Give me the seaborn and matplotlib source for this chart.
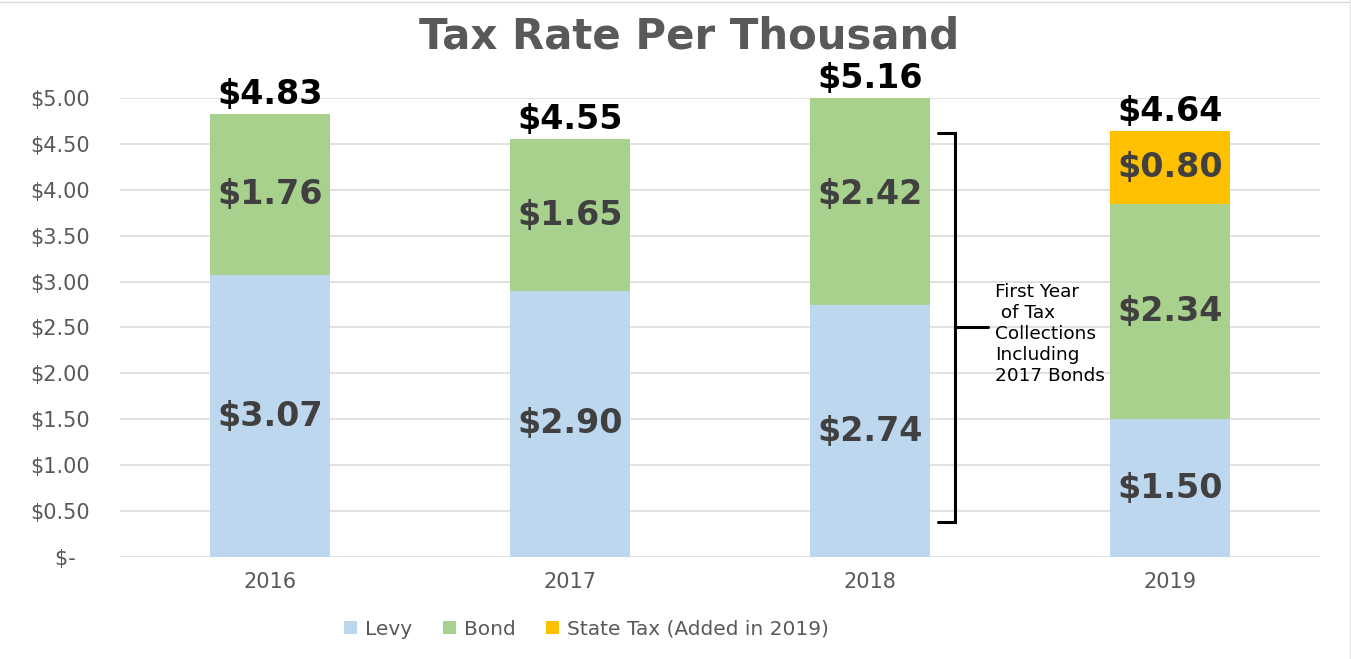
import matplotlib
matplotlib.use("Agg")
import matplotlib.pyplot as plt
from matplotlib.lines import Line2D
from matplotlib.patches import Patch
from matplotlib.ticker import FuncFormatter, MultipleLocator
import seaborn as sns
import pandas as pd
import numpy as np

years = ["2016", "2017", "2018", "2019"]
levy = [3.07, 2.90, 2.74, 1.50]
bond = [1.76, 1.65, 2.42, 2.34]
state = [0.0, 0.0, 0.0, 0.80]
series_names = ["Levy", "Bond", "State Tax (Added in 2019)"]
colors = ["#BDD7EE", "#A9D18E", "#FFC000"]
title = "Tax Rate Per Thousand"
note = "First Year\n of Tax\nCollections\nIncluding\n2017 Bonds"

sns.set_style("white")
plt.rcParams["font.family"] = ["DejaVu Sans"]

df = pd.DataFrame({"year": years, "levy": levy, "bond": bond, "state": state})
df["lb"] = df["levy"] + df["bond"]
df["total"] = df["lb"] + df["state"]

fig = plt.figure(figsize=(13.51, 6.59), dpi=100)
ax = fig.add_axes([0.0888, 0.1548, 0.8883, 0.6965])

# stacked by overlaying cumulative totals
for col, c in [("total", colors[2]), ("lb", colors[1]), ("levy", colors[0])]:
    sns.barplot(data=df, x="year", y=col, color=c, saturation=1, width=0.4,
                errorbar=None, linewidth=0, ax=ax, zorder=3)

ymax = 5.0
ax.set_ylim(0, ymax)
ax.set_xlim(-0.5, len(years) - 0.5)
ax.yaxis.set_major_locator(MultipleLocator(0.5))
ax.yaxis.set_major_formatter(FuncFormatter(lambda v, p: "$-  " if abs(v) < 1e-9 else f"${v:.2f}"))
ax.grid(axis="y", color="#D9D9D9", linewidth=1.1, zorder=0)
ax.set_axisbelow(True)
for s in ax.spines.values():
    s.set_visible(False)
ax.set_xlabel("")
ax.set_ylabel("")
ax.tick_params(axis="y", length=0, pad=22, labelsize=15, labelcolor="#595959")
ax.tick_params(axis="x", length=0, pad=11, labelsize=15, labelcolor="#595959")

seg_kw = dict(ha="center", va="center", fontsize=24, fontweight="bold", color="#404040", zorder=5)
for i in range(len(years)):
    lv, bd, st = levy[i], bond[i], state[i]
    ax.text(i, lv / 2, f"${lv:.2f}", **seg_kw)
    ax.text(i, lv + bd / 2, f"${bd:.2f}", **seg_kw)
    if st > 0:
        ax.text(i, lv + bd + st / 2, f"${st:.2f}", **seg_kw)
    tot = lv + bd + st
    ax.annotate(f"${tot:.2f}", xy=(i, min(tot, ymax)), xytext=(0, 14),
                textcoords="offset points", ha="center", va="center",
                fontsize=24, fontweight="bold", color="black", annotation_clip=False)

# bracket annotation for 2018
bx, btop, bbot, bmid = 2.283, 4.62, 0.38, 2.505
ax.plot([2.227, bx, bx, 2.227], [btop, btop, bbot, bbot], color="black", lw=2.2,
        clip_on=False, solid_joinstyle="miter", zorder=6)
ax.plot([bx, 2.393], [bmid, bmid], color="black", lw=2.2, clip_on=False, zorder=6)
ax.text(2.417, 2.43, note, ha="left", va="center", fontsize=13.3, color="black",
        linespacing=1.2, zorder=6)

fig.text(0.51, 0.945, title, ha="center", va="center", fontsize=30.2,
         fontweight="bold", color="#595959")

handles = [Patch(facecolor=c, edgecolor="none") for c in colors]
fig.legend(handles, series_names, loc="center", bbox_to_anchor=(0.434, 0.045),
           ncol=3, frameon=False, fontsize=14.5, labelcolor="#595959",
           handlelength=0.65, handleheight=0.65, handletextpad=0.4, columnspacing=1.5)

fig.add_artist(Line2D([0, 1], [0.997, 0.997], transform=fig.transFigure, color="#D9D9D9", lw=1))
fig.add_artist(Line2D([0.9993, 0.9993], [0, 1], transform=fig.transFigure, color="#E4E4E4", lw=1))

fig.savefig("out.png", dpi=100, facecolor="white")
